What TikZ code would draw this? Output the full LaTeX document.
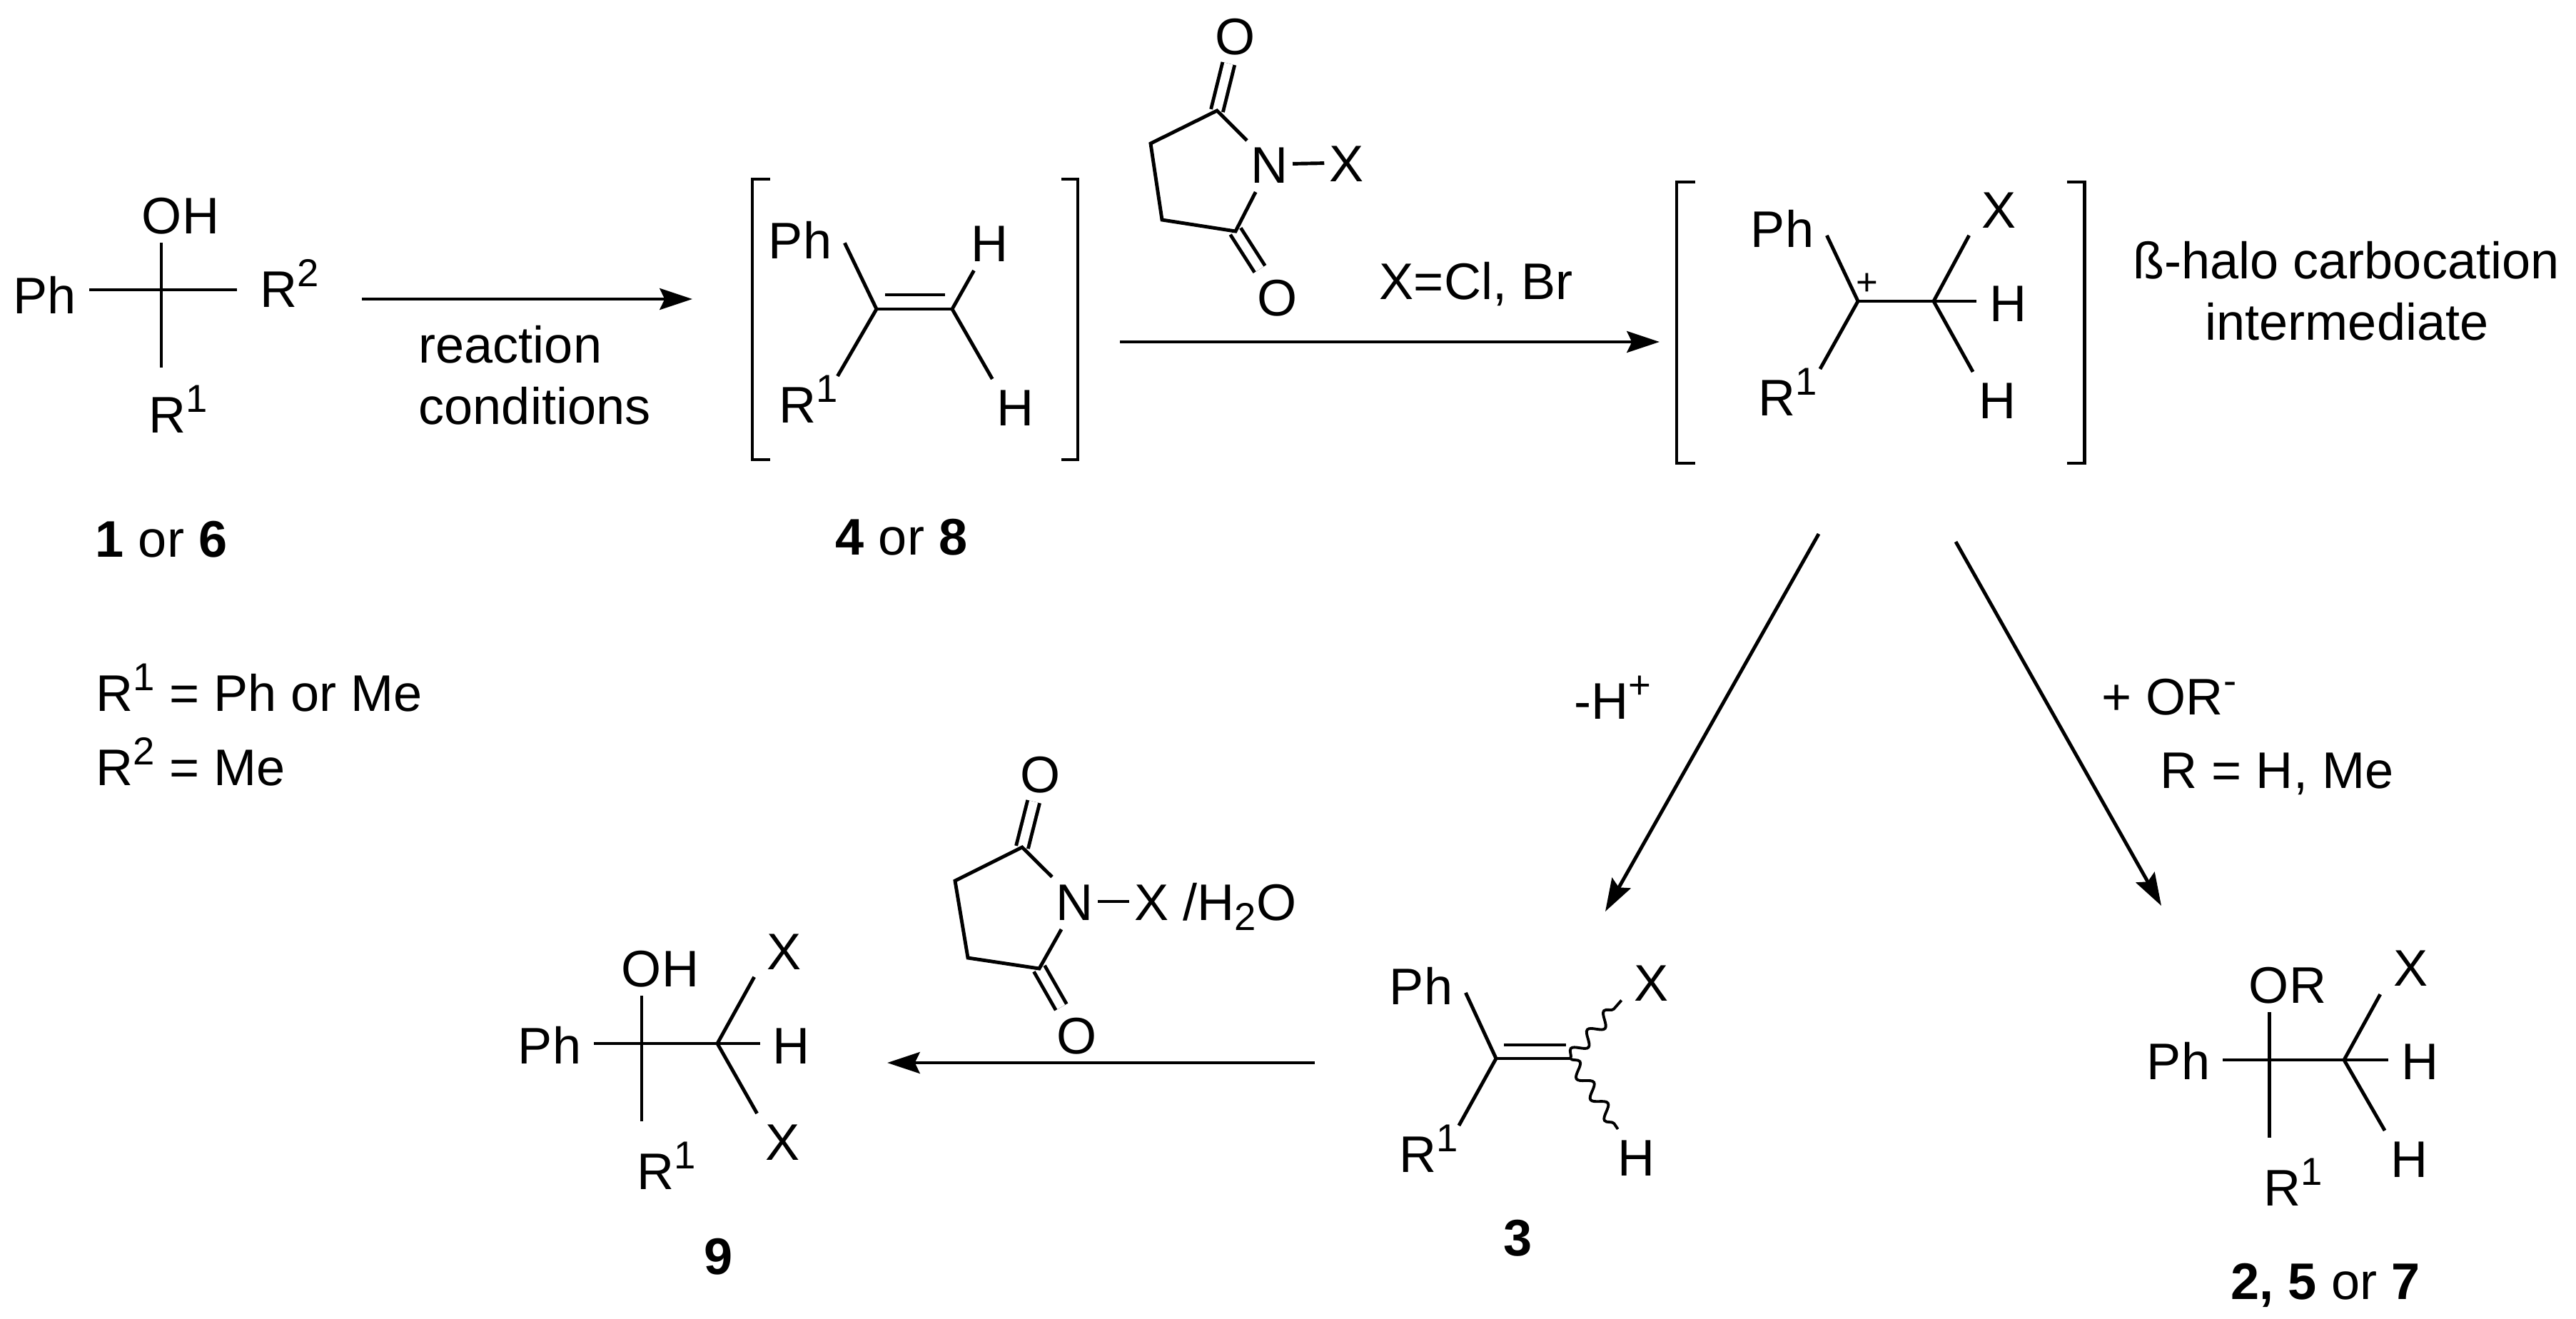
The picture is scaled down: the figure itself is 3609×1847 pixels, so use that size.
\documentclass[tikz,border=0pt]{standalone}
\usepackage{fontspec}
\setmainfont{Liberation Sans}
\usetikzlibrary{arrows.meta,decorations.pathmorphing}
\newcommand{\supchar}[1]{\raisebox{8pt}{\fontsize{15.5}{15.5}\selectfont #1}}
\newcommand{\subchar}[1]{\raisebox{-4pt}{\fontsize{15.5}{15.5}\selectfont #1}}
\tikzset{
  atom/.style={font=\fontsize{20.5}{24.6}\selectfont,text height=14.8pt,text depth=0pt,inner xsep=5pt,inner ysep=3.5pt},
  txt/.style={font=\fontsize{20.5}{24.6}\selectfont,text height=14.8pt,text depth=0pt,inner sep=0pt},
  bond/.style={line width=1.4pt},
  dbond/.style={line width=1.4pt,double,double distance=3.5pt},
  wavy/.style={line width=1.1pt,decorate,decoration={snake,amplitude=2.5pt,segment length=10pt}},
  rxn/.style={line width=1.4pt,-{Stealth[length=13pt,width=8.5pt,inset=2pt]}}
}
\begin{document}
\begin{tikzpicture}[x=0.01cm,y=-0.01cm]
\useasboundingbox (0,0) rectangle (3609,1847);

\coordinate (c1) at (226,406);
\node[atom] (oh1) at (253,301) {OH};
\node[atom] (ph1) at (63,413) {Ph};
\node[atom,inner xsep=9pt] (rb1) at (406,404) {R\supchar{2}};
\node[atom,inner ysep=11pt] (ra1) at (250,580) {R\supchar{1}};
\draw [bond] (c1 |- oh1.south) -- (c1 |- ra1.north);
\draw [bond] (ph1.east |- c1) -- (rb1.west |- c1);
\node[txt] (lab1) at (226,754) {\textbf{1} or \textbf{6}};
\node[txt,anchor=west] (defa) at (134,970) {R\supchar{1} = Ph or Me};
\node[txt,anchor=west] (defb) at (134,1074) {R\supchar{2} = Me};

\coordinate (a1s) at (507,419);
\coordinate (a1e) at (970,419);
\draw [rxn] (a1s) -- (a1e);
\node[txt,anchor=west] (cond1) at (586,482) {reaction};
\node[txt,anchor=west] (cond2) at (586,568) {conditions};

\draw [bond] (1079,251) -- (1054,251) -- (1054,644) -- (1079,644);
\draw [bond] (1487,251) -- (1510,251) -- (1510,644) -- (1487,644);
\coordinate (c4a) at (1228,433);
\coordinate (c4b) at (1334,433);
\node[atom] (ph4) at (1121,336) {Ph};
\node[atom] (ra4) at (1133,566) {R\supchar{1}};
\node[atom] (ha4) at (1387,340) {H};
\node[atom] (hb4) at (1423,570) {H};
\draw [bond] (ph4.-4) -- (c4a);
\draw [bond] (ra4.44) -- (c4a);
\draw [bond] (c4a) -- (c4b);
\draw [bond] ([shift={(12,-20)}]c4a) -- ([shift={(-10,-20)}]c4b);
\draw [bond] (c4b) -- (ha4.-120);
\draw [bond] (c4b) -- (hb4.130);
\node[txt] (lab4) at (1263,751) {\textbf{4} or \textbf{8}};

\coordinate (sa) at (1705,155);
\coordinate (sb) at (1612,201);
\coordinate (sc) at (1628,308);
\coordinate (sd) at (1731,324);
\node[atom,inner xsep=1.5pt] (na) at (1779,230) {N};
\node[atom] (oa) at (1731,50) {O};
\node[atom] (ob) at (1790,416) {O};
\node[atom,inner xsep=2pt] (xa) at (1887,228) {X};
\draw [dbond] (sa) -- (oa);
\draw [dbond] (sd) -- (ob);
\draw [bond] (na.134) -- (sa) -- (sb) -- (sc) -- (sd) -- (na.-117);
\draw [bond] (na) -- (xa);
\coordinate (a2s) at (1569,479);
\coordinate (a2e) at (2325,479);
\draw [rxn] (a2s) -- (a2e);
\node[txt] (xcl) at (2068,393) {X=Cl, Br};

\draw [bond] (2375,255) -- (2349,255) -- (2349,649) -- (2375,649);
\draw [bond] (2896,255) -- (2920,255) -- (2920,649) -- (2896,649);
\coordinate (cp) at (2603,422);
\coordinate (ch) at (2709,422);
\node[atom] (php) at (2497,320) {Ph};
\node[atom] (rap) at (2505,556) {R\supchar{1}};
\node[atom] (xp) at (2801,293) {X};
\node[atom] (hap) at (2813,424) {H};
\node[atom] (hbp) at (2798,560) {H};
\node[inner sep=0pt,font=\fontsize{15}{15}\selectfont] (plus) at (2616,398) {+};
\draw [bond] (php.-9) -- (cp);
\draw [bond] (rap.41) -- (cp);
\draw [bond] (cp) -- (ch);
\draw [bond] (ch) -- (xp.-139);
\draw [bond] (ch) -- (hap.west |- ch);
\draw [bond] (ch) -- (hbp.131);
\node[txt] (halo) at (3287,364) {ß-halo carbocation};
\node[txt] (inter) at (3288,450) {intermediate};

\coordinate (a3s) at (2548,748);
\coordinate (a3e) at (2249,1277);
\coordinate (a4s) at (2740,759);
\coordinate (a4e) at (3028,1269);
\draw [rxn] (a3s) -- (a3e);
\draw [rxn] (a4s) -- (a4e);
\node[txt] (minush) at (2259,981) {-H\supchar{+}};
\node[txt] (plusor) at (3039,975) {+ OR\supchar{-}};
\node[txt] (rdef) at (3190,1078) {R = H, Me};

\coordinate (c3a) at (2096,1483);
\coordinate (c3b) at (2200,1483);
\node[atom] (ph3) at (1991,1381) {Ph};
\node[atom] (ra3) at (2002,1616) {R\supchar{1}};
\node[atom] (x3) at (2314,1376) {X};
\node[atom] (h3) at (2292,1621) {H};
\draw [bond] (ph3.-9) -- (c3a);
\draw [bond] (ra3.43) -- (c3a);
\draw [bond] (c3a) -- (c3b);
\draw [bond] ([shift={(11,-19)}]c3a) -- ([shift={(-6,-19)}]c3b);
\draw [wavy] (c3b) -- (x3.-149);
\draw [wavy] (c3b) -- (h3.123);
\node[txt] (lab3) at (2127,1733) {\textbf{3}};

\coordinate (c2a) at (3179,1485);
\coordinate (c2b) at (3284,1485);
\node[atom] (or2) at (3205,1379) {OR};
\node[atom] (ph2) at (3052,1486) {Ph};
\node[atom,inner ysep=12pt] (ra2) at (3213,1663) {R\supchar{1}};
\node[atom] (x2) at (3377,1355) {X};
\node[atom] (ha2) at (3390,1486) {H};
\node[atom] (hb2) at (3375,1623) {H};
\draw [bond] (c2a |- or2.south) -- (c2a |- ra2.north);
\draw [bond] (ph2.east |- c2a) -- (ha2.west |- c2a);
\draw [bond] (c2b) -- (x2.-138);
\draw [bond] (c2b) -- (hb2.131);
\node[txt] (lab2) at (3258,1794) {\textbf{2, 5} or \textbf{7}};

\coordinate (a5s) at (1842,1489);
\coordinate (a5e) at (1243,1489);
\draw [rxn] (a5s) -- (a5e);
\coordinate (ta) at (1432,1187);
\coordinate (tb) at (1338,1234);
\coordinate (tc) at (1356,1342);
\coordinate (td) at (1456,1357);
\node[atom,inner xsep=1.5pt] (nb) at (1506,1263) {N};
\node[atom] (oc) at (1458,1084) {O};
\node[atom] (od) at (1509,1450) {O};
\node[atom,inner xsep=2pt] (xb) at (1614,1263) {X};
\node[txt] (water) at (1737,1263) {/H\subchar{2}O};
\draw [dbond] (ta) -- (oc);
\draw [dbond] (td) -- (od);
\draw [bond] (nb.133) -- (ta) -- (tb) -- (tc) -- (td) -- (nb.-116);
\draw [bond] (nb) -- (xb);

\coordinate (c9a) at (899,1462);
\coordinate (c9b) at (1005,1462);
\node[atom] (oh9) at (925,1356) {OH};
\node[atom] (ph9) at (770,1464) {Ph};
\node[atom,inner ysep=12pt] (ra9) at (934,1640) {R\supchar{1}};
\node[atom] (xa9) at (1099,1332) {X};
\node[atom] (h9) at (1109,1464) {H};
\node[atom] (xb9) at (1097,1599) {X};
\draw [bond] (c9a |- oh9.south) -- (c9a |- ra9.north);
\draw [bond] (ph9.east |- c9a) -- (h9.west |- c9a);
\draw [bond] (c9b) -- (xa9.-139);
\draw [bond] (c9b) -- (xb9.133);
\node[txt] (lab9) at (1007,1759) {\textbf{9}};

\end{tikzpicture}
\end{document}
